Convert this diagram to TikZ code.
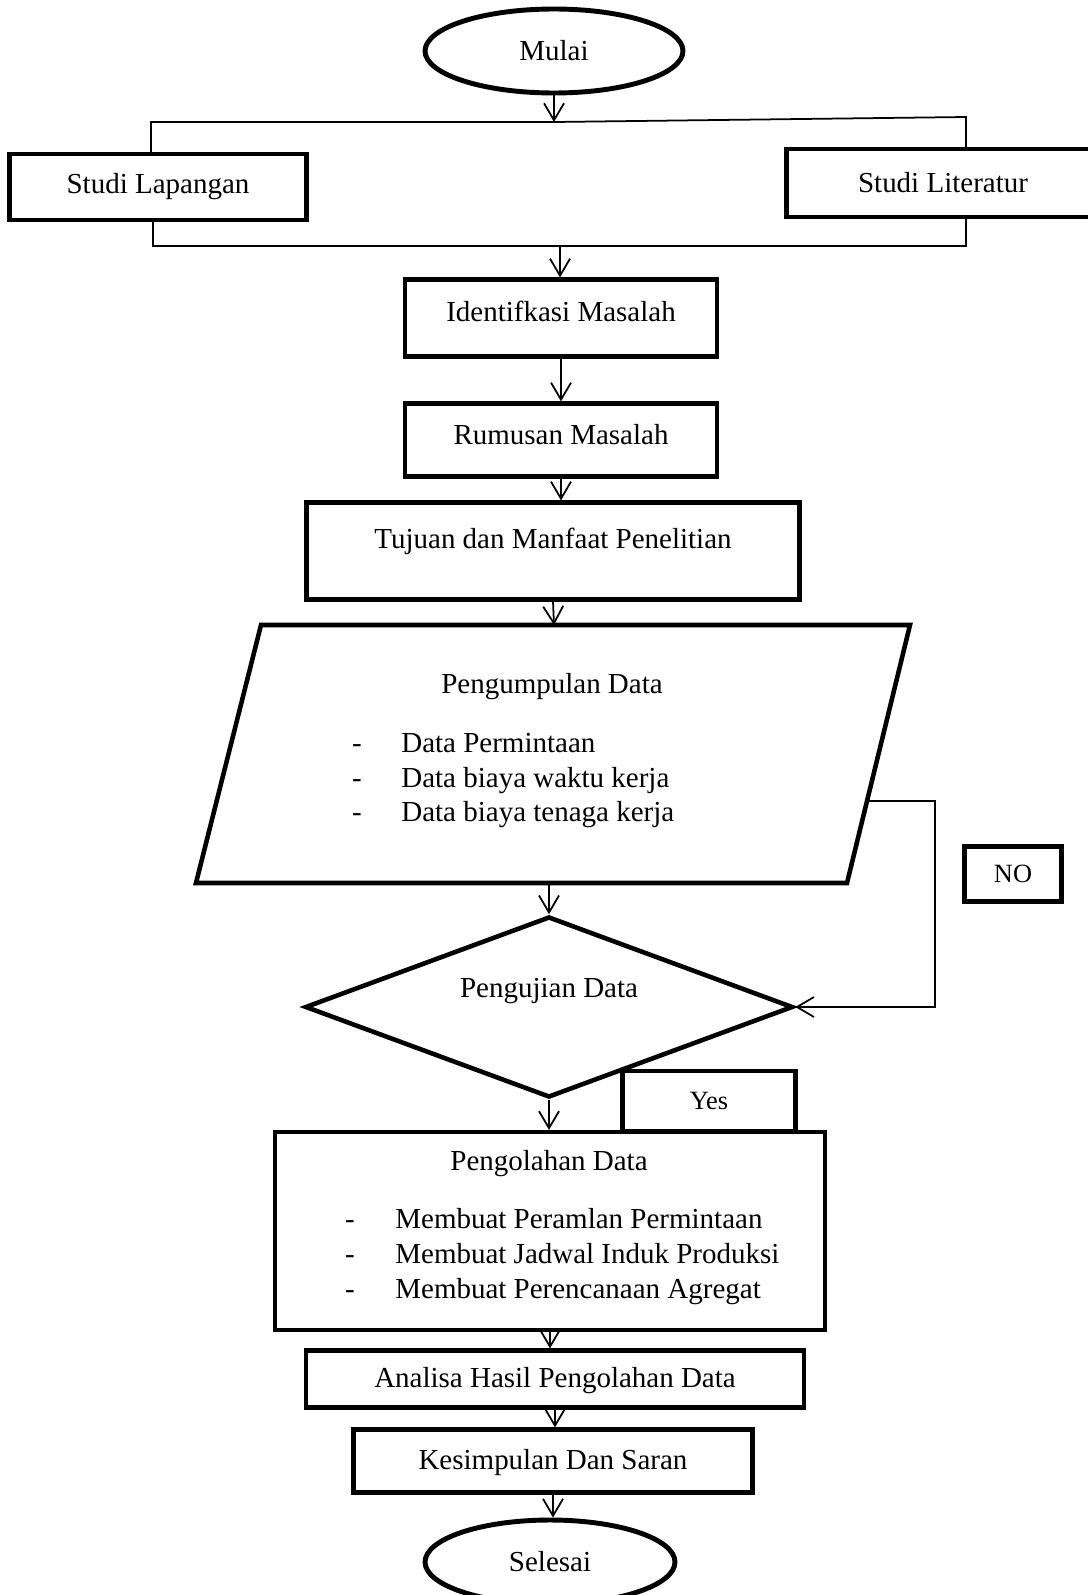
\documentclass[tikz,border=0pt]{standalone}
\usepackage{fontspec}
\setmainfont{Liberation Serif}
\usetikzlibrary{positioning, shapes.geometric, arrows.meta}

\begin{document}
\begin{tikzpicture}[
    x=0.02cm, y=-0.02cm,
    every node/.style={
        inner sep=0pt,
        align=center,
        font=\fontsize{16.5}{20}\selectfont
    },
    box/.style={draw, rectangle, line width=2.4pt},
    terminal/.style={draw, ellipse, line width=2.8pt},
    decision/.style={draw, diamond, line width=2.6pt},
    iodata/.style={draw, line width=2.6pt, line join=miter},
    tag/.style={box, font=\fontsize{15}{18}\selectfont},
    item/.style={anchor=base west},
    bullet/.style={anchor=base},
    link/.style={line width=1pt},
    arr/.style={line width=1pt, -{Straight Barb[length=3.4mm, width=4mm]}}
]
\useasboundingbox (0,0) rectangle (1088,1595);
\clip (0,0) rectangle (1088,1595);

% Nodes
\node[terminal, minimum width=5.16cm, minimum height=1.68cm] (mulai) at (554,51) {Mulai};
\node[box, minimum width=5.94cm, minimum height=1.32cm] (lapangan) at (158,187) {Studi Lapangan};
\node[box, minimum width=6.26cm, minimum height=1.36cm] (literatur) at (943,183) {Studi Literatur};
\node[box, minimum width=6.24cm, minimum height=1.54cm] (identifikasi) at (561,318) {};
\node (identtext) at (561,311) {Identifkasi Masalah};
\node[box, minimum width=6.24cm, minimum height=1.46cm] (rumusan) at (561,440) {};
\node (rumustext) at (561,435) {Rumusan Masalah};
\node[box, minimum width=9.86cm, minimum height=1.94cm] (tujuan) at (553,551) {};
\node (tujuantext) at (553,541) {Tujuan dan Manfaat Penelitian};

% Pengumpulan data (parallelogram)
\coordinate (pk-tl) at (261,625);
\coordinate (pk-tr) at (910,625);
\coordinate (pk-br) at (847,883);
\coordinate (pk-bl) at (196,883);
\draw[iodata] (pk-tl) -- (pk-tr) -- (pk-br) -- (pk-bl) -- cycle;
\node (kumpultitle) at (552,687) {Pengumpulan Data};
\node[bullet] (d1) at (357,752) {-};
\node[item] (k1) at (401,752) {Data Permintaan};
\node[bullet] (d2) at (357,787) {-};
\node[item] (k2) at (401,787) {Data biaya waktu kerja};
\node[bullet] (d3) at (357,821) {-};
\node[item] (k3) at (401,821) {Data biaya tenaga kerja};

% Pengujian
\node[decision, minimum width=9.76cm, minimum height=3.62cm] (uji) at (549,1007) {};
\node (ujitext) at (549,991) {Pengujian Data};
\node[tag, minimum width=1.94cm, minimum height=1.1cm] (no) at (1013,874) {NO};
\node[tag, minimum width=3.46cm, minimum height=1.2cm] (yes) at (709,1101) {Yes};

% Pengolahan data
\node[box, minimum width=11cm, minimum height=3.96cm] (pengolahan) at (550,1231) {};
\node (olahtitle) at (549,1164) {Pengolahan Data};
\node[bullet] (e1) at (350,1228) {-};
\node[item] (o1) at (395,1228) {Membuat Peramlan Permintaan};
\node[bullet] (e2) at (350,1263) {-};
\node[item] (o2) at (395,1263) {Membuat Jadwal Induk Produksi};
\node[bullet] (e3) at (350,1298) {-};
\node[item] (o3) at (395,1298) {Membuat Perencanaan Agregat};

\node[box, minimum width=9.96cm, minimum height=1.14cm] (analisa) at (555,1379) {};
\node (analisatext) at (555,1381) {Analisa Hasil Pengolahan Data};
\node[box, minimum width=7.98cm, minimum height=1.26cm] (kesimpulan) at (553,1461) {};
\node (kesimpulantext) at (553,1463) {Kesimpulan Dan Saran};
\node[terminal, minimum width=5cm, minimum height=1.68cm] (selesai) at (550,1562) {Selesai};

% Branch and merge points
\coordinate (split) at (554,122);
\coordinate (splitL) at (151,122);
\coordinate (splitR) at (966,117);
\coordinate (mergeL) at (153,246);
\coordinate (mergeR) at (966,246);
\coordinate (merge) at (560,246);
\coordinate (kumpulin) at (554,625);
\coordinate (kumpulout) at (549,883);
\coordinate (nostart) at (868,801);
\coordinate (noturn) at (935,801);

% Connectors
\draw[arr] (mulai.south) -- (split);
\draw[link] (splitL |- lapangan.north) -- (splitL) -- (split) -- (splitR) -- (splitR |- literatur.north);
\draw[link] (mergeL |- lapangan.south) -- (mergeL) -- (mergeR) -- (mergeR |- literatur.south);
\draw[arr] (merge) -- (merge |- identifikasi.north);
\draw[arr] (identifikasi.south) -- (identifikasi.south |- rumusan.north);
\draw[arr] (rumusan.south) -- (rumusan.south |- tujuan.north);
\draw[arr] (tujuan.south) -- (kumpulin);
\draw[arr] (kumpulout) -- (uji.north);
\draw[arr] (nostart) -- (noturn) -- (noturn |- uji.east) -- (uji.east);
\draw[arr] (uji.south) -- (uji.south |- pengolahan.north);
\draw[arr] (pengolahan.south) -- (pengolahan.south |- analisa.north);
\draw[arr] (analisa.south) -- (analisa.south |- kesimpulan.north);
\draw[arr] (kesimpulan.south) -- (kesimpulan.south |- selesai.north);
\end{tikzpicture}
\end{document}
